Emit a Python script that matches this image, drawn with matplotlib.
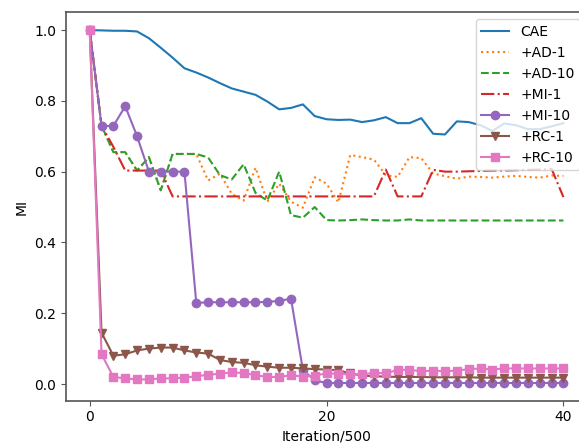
import matplotlib
matplotlib.use("Agg")
import matplotlib.pyplot as plt
import numpy as np

"""
MI curves over training iterations for CAE and its regularised variants
"""

iterations = np.arange(41)

cae = [1.0, 0.999, 0.998, 0.998, 0.996, 0.977, 0.95, 0.922, 0.892, 0.88,
       0.866, 0.85, 0.835, 0.826, 0.817, 0.798, 0.776, 0.78, 0.79, 0.757,
       0.748, 0.746, 0.747, 0.74, 0.745, 0.754, 0.737, 0.737, 0.751, 0.707,
       0.705, 0.742, 0.74, 0.731, 0.715, 0.736, 0.731, 0.72, 0.72, 0.728,
       0.737]
ad_1 = [1.0, 0.73, 0.655, 0.655, 0.603, 0.641, 0.547, 0.65, 0.65, 0.65,
        0.575, 0.594, 0.537, 0.518, 0.611, 0.515, 0.566, 0.515, 0.498, 0.584,
        0.566, 0.513, 0.647, 0.641, 0.634, 0.59, 0.585, 0.641, 0.638, 0.595,
        0.587, 0.58, 0.586, 0.585, 0.583, 0.586, 0.588, 0.585, 0.583, 0.589,
        0.588]
ad_10 = [1.0, 0.73, 0.655, 0.655, 0.603, 0.641, 0.547, 0.65, 0.65, 0.65,
         0.64, 0.59, 0.578, 0.621, 0.54, 0.518, 0.6, 0.477, 0.47, 0.5,
         0.463, 0.462, 0.463, 0.465, 0.463, 0.462, 0.462, 0.465, 0.462, 0.462,
         0.462, 0.462, 0.462, 0.462, 0.462, 0.462, 0.462, 0.462, 0.462, 0.462,
         0.462]
mi_1 = [1.0, 0.73, 0.67, 0.603, 0.603, 0.603, 0.603, 0.53, 0.53, 0.53,
        0.53, 0.53, 0.53, 0.53, 0.53, 0.53, 0.53, 0.53, 0.53, 0.53,
        0.53, 0.53, 0.53, 0.53, 0.53, 0.606, 0.53, 0.53, 0.53, 0.605,
        0.6, 0.6, 0.601, 0.602, 0.603, 0.603, 0.604, 0.605, 0.606, 0.608,
        0.528]
mi_10 = [1.0, 0.729, 0.729, 0.785, 0.70, 0.60, 0.60, 0.60, 0.60, 0.229,
         0.231, 0.231, 0.231, 0.231, 0.231, 0.232, 0.235, 0.241, 0.04, 0.01,
         0.003, 0.003, 0.003, 0.003, 0.003, 0.003, 0.003, 0.003, 0.003, 0.003,
         0.003, 0.003, 0.003, 0.003, 0.003, 0.003, 0.003, 0.003, 0.003, 0.003,
         0.003]
rc_1 = [1.0, 0.145, 0.08, 0.084, 0.095, 0.1, 0.103, 0.103, 0.095, 0.089,
        0.086, 0.068, 0.062, 0.06, 0.053, 0.049, 0.046, 0.046, 0.044, 0.042,
        0.041, 0.039, 0.03, 0.024, 0.022, 0.021, 0.02, 0.02, 0.02, 0.019,
        0.019, 0.019, 0.019, 0.018, 0.018, 0.018, 0.018, 0.018, 0.018, 0.018,
        0.018]
rc_10 = [1.0, 0.084, 0.02, 0.016, 0.013, 0.013, 0.016, 0.016, 0.018, 0.022,
         0.026, 0.029, 0.033, 0.031, 0.025, 0.02, 0.02, 0.025, 0.021, 0.024,
         0.03, 0.029, 0.027, 0.027, 0.032, 0.03, 0.04, 0.04, 0.036, 0.038,
         0.036, 0.038, 0.042, 0.044, 0.041, 0.044, 0.044, 0.044, 0.044, 0.044,
         0.044]

fig = plt.figure(figsize=(5.79, 4.43), dpi=100)
ax = fig.add_axes([0.114, 0.0957, 0.9, 0.8763])

ax.plot(iterations, cae, label="CAE")
ax.plot(iterations, ad_1, ":", label="+AD-1")
ax.plot(iterations, ad_10, "--", label="+AD-10")
ax.plot(iterations, mi_1, "-.", label="+MI-1")
ax.plot(iterations, mi_10, "-o", label="+MI-10")
ax.plot(iterations, rc_1, "-v", label="+RC-1")
ax.plot(iterations, rc_10, "-s", label="+RC-10")

ax.set_xticks([0, 20, 40])
ax.set_xlabel("Iteration/500")
ax.set_ylabel("MI")
for sp in ax.spines.values():
    sp.set_color("#555555")
    sp.set_linewidth(1.2)
ax.tick_params(color="#555555")
ax.legend(loc="upper right")

fig.savefig("out.png", dpi=100)
